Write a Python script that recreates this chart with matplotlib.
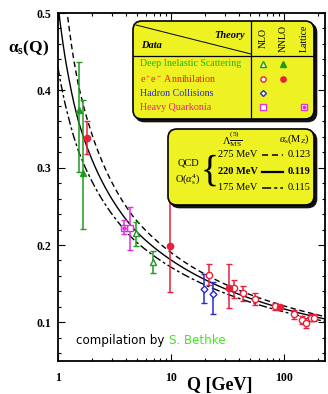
import numpy as np
import matplotlib
matplotlib.use('Agg')
import matplotlib.pyplot as plt
from matplotlib.patches import FancyBboxPatch
from matplotlib.transforms import Affine2D
from matplotlib.lines import Line2D

plt.rcParams['font.family'] = ['Liberation Serif', 'DejaVu Serif']
plt.rcParams['mathtext.fontset'] = 'custom'
plt.rcParams['mathtext.rm'] = 'Liberation Serif'
plt.rcParams['mathtext.it'] = 'Liberation Serif:italic'
plt.rcParams['mathtext.bf'] = 'Liberation Serif:bold'

W, H = 328, 394

# --- measurements read from the picture: Q [GeV], alpha_s, +err, -err ---
# deep inelastic scattering
dis_nlo_q = [4.93, 6.89]
dis_nlo_a = [0.215, 0.178]
dis_nlo_up = [0.015, 0.014]
dis_nlo_dn = [0.016, 0.014]

dis_nnlo_q = [1.52, 1.66]
dis_nnlo_a = [0.374, 0.293]
dis_nnlo_up = [0.063, 0.094]
dis_nnlo_dn = [0.080, 0.072]

# e+e- annihilation
ee_nnlo_q = [1.79, 9.8, 32.6, 92.2]
ee_nnlo_a = [0.339, 0.199, 0.145, 0.120]
ee_nnlo_up = [0.021, 0.062, 0.031, 0.003]
ee_nnlo_dn = [0.021, 0.060, 0.027, 0.003]

ee_nlo_q = [21.7, 36.3, 43.6, 55.6, 83.2, 123, 144, 157, 173, 185]
ee_nlo_a = [0.161, 0.144, 0.138, 0.130, 0.121, 0.111, 0.103, 0.0997, 0.106, 0.106]
ee_nlo_up = [0.014, 0.011, 0.009, 0.008, 0.0045, 0.005, 0.005, 0.0053, 0.005, 0.005]
ee_nlo_dn = [0.013, 0.012, 0.010, 0.007, 0.005, 0.007, 0.005, 0.0072, 0.004, 0.004]

# hadron collisions
had_q = [19.6, 23.7]
had_a = [0.143, 0.136]
had_up = [0.020, 0.016]
had_dn = [0.018, 0.025]

# heavy quarkonia
hq_q = [4.34]
hq_a = [0.222]
hq_up = [0.027]
hq_dn = [0.028]

lat_q = [3.86]
lat_a = [0.222]
lat_up = [0.010]
lat_dn = [0.008]

# theory curves given in the legend
lambda_labels = ['275 MeV', '220 MeV', '175 MeV']
amz_values = [0.123, 0.119, 0.115]
amz_labels = ['0.123', '0.119', '0.115']

GREEN = '#1f9a1f'
RED = '#e8203a'
BLUE = '#2a2ad0'
MAGENTA = '#e030e0'
YELLOW = '#eef222'


def beta(a, nf):
    # 4-loop beta function, a = alpha_s / pi, d a / d ln(mu^2)
    z3 = 1.2020569
    b0 = (11 - 2.0 / 3 * nf) / 4
    b1 = (102 - 38.0 / 3 * nf) / 16
    b2 = (2857.0 / 2 - 5033.0 / 18 * nf + 325.0 / 54 * nf ** 2) / 64
    b3 = (149753.0 / 6 + 3564 * z3 - (1078361.0 / 162 + 6508.0 / 27 * z3) * nf
          + (50065.0 / 162 + 6472.0 / 81 * z3) * nf ** 2 + 1093.0 / 729 * nf ** 3) / 256
    return -(b0 * a ** 2 + b1 * a ** 3 + b2 * a ** 4 + b3 * a ** 5)


def nflav(q):
    if q > 4.7:
        return 5
    if q > 1.5:
        return 4
    return 3


def run_alpha(amz, qs):
    """RK4 running of alpha_s from M_Z to every q in qs."""
    mz = 91.19
    out = np.zeros(len(qs))
    for i, q in enumerate(qs):
        t0, t1 = np.log(mz ** 2), np.log(q ** 2)
        n = 200
        h = (t1 - t0) / n
        a = amz / np.pi
        t = t0
        for _ in range(n):
            nf = nflav(np.sqrt(np.exp(t + h / 2)))
            k1 = beta(a, nf)
            k2 = beta(a + h / 2 * k1, nf)
            k3 = beta(a + h / 2 * k2, nf)
            k4 = beta(a + h * k3, nf)
            a += h / 6 * (k1 + 2 * k2 + 2 * k3 + k4)
            t += h
        out[i] = a * np.pi
    return out


fig = plt.figure(figsize=(W / 100, H / 100), dpi=100)
fig.patch.set_facecolor('white')
ax = fig.add_axes([58 / W, (H - 361) / H, (325 - 58) / W, (361 - 13) / H])

# pixel coordinates on the figure, origin top-left
px = Affine2D().scale(1 / W, -1 / H).translate(0, 1) + fig.transFigure

qgrid = np.logspace(0, np.log10(240), 120)
styles = [(0, (4, 2.5)), '-', (0, (6, 2, 2, 2))]
for amz, ls in zip(amz_values, styles):
    ax.plot(qgrid, run_alpha(amz, qgrid), color='black', lw=1.0, ls=ls, zorder=2)

ebkw = dict(capsize=2.5, elinewidth=1.1, capthick=1.1, ls='none', markersize=4.5,
            markeredgewidth=1.0, zorder=4)
ax.errorbar(dis_nlo_q, dis_nlo_a, yerr=[dis_nlo_dn, dis_nlo_up], color=GREEN, marker='^',
            mfc='white', mec=GREEN, **ebkw)
ax.errorbar(dis_nnlo_q, dis_nnlo_a, yerr=[dis_nnlo_dn, dis_nnlo_up], color=GREEN, marker='^',
            mfc=GREEN, mec=GREEN, **ebkw)
ax.errorbar(ee_nlo_q, ee_nlo_a, yerr=[ee_nlo_dn, ee_nlo_up], color=RED, marker='o',
            mfc='white', mec=RED, **ebkw)
ax.errorbar(ee_nnlo_q, ee_nnlo_a, yerr=[ee_nnlo_dn, ee_nnlo_up], color=RED, marker='o',
            mfc=RED, mec=RED, **ebkw)
ax.errorbar(had_q, had_a, yerr=[had_dn, had_up], color=BLUE, marker='D', mfc='white',
            mec=BLUE, **dict(ebkw, markersize=3.5))
ax.errorbar(hq_q, hq_a, yerr=[hq_dn, hq_up], color=MAGENTA, marker='s', mfc='white',
            mec=MAGENTA, **ebkw)
ax.errorbar(lat_q, lat_a, yerr=[lat_dn, lat_up], color=MAGENTA, marker='s', mfc='white',
            mec=MAGENTA, **ebkw)
ax.plot(lat_q, lat_a, ls='none', marker='o', ms=2.2, color=MAGENTA, zorder=5)

ax.set_xscale('log')
ax.set_xlim(1, 230)
ax.set_ylim(0.05, 0.5)
ax.set_yticks([0.1, 0.2, 0.3, 0.4, 0.5])
ax.set_yticks(np.arange(0.06, 0.5, 0.02), minor=True)
ax.set_xticks([1, 10, 100])
ax.set_xticklabels(['1', '10', '100'], fontweight='bold')
ax.set_yticklabels(['0.1', '0.2', '0.3', '0.4', '0.5'], fontweight='bold')
ax.tick_params(which='both', direction='in', top=True, right=True, width=0.8)
ax.tick_params(which='major', length=5, labelsize=8.5, pad=5)
ax.tick_params(which='minor', length=2.5)
ax.tick_params(axis='x', pad=8)
for sp in ax.spines.values():
    sp.set_linewidth(1.3)

fig.text(8, 48, r'$\mathbf{\alpha_s}$(Q)', transform=px, fontsize=12.5, fontweight='bold',
         ha='left', va='center')
fig.text(220, 386, 'Q [GeV]', transform=px, fontsize=13, fontweight='bold',
         ha='center', va='center')

t1 = fig.text(76, 341, 'compilation by', transform=px, fontsize=8.6, family='DejaVu Sans',
              ha='left', va='center', color='black')
fig.canvas.draw()
x_end = t1.get_window_extent().x1
fig.text(x_end + 5, 341, 'S. Bethke', transform=px, fontsize=8.6, family='DejaVu Sans',
         ha='left', va='center', color='#44e622')


def box(x0, y0, x1, y1):
    shadow = FancyBboxPatch((x0 + 2.5, y0 + 2.5), x1 - x0, y1 - y0, transform=px,
                            boxstyle='round,pad=0,rounding_size=9', fc='#111111',
                            ec='#111111', lw=1.2, zorder=10)
    face = FancyBboxPatch((x0, y0), x1 - x0, y1 - y0, transform=px,
                          boxstyle='round,pad=0,rounding_size=9', fc=YELLOW,
                          ec='black', lw=1.2, zorder=11)
    fig.patches.append(shadow)
    fig.patches.append(face)


# table of data/theory symbols
box(133, 21, 314, 119)
fig.add_artist(Line2D([251, 251], [21, 119], transform=px, color='black', lw=0.9, zorder=12))
fig.add_artist(Line2D([133, 314], [56, 56], transform=px, color='black', lw=0.9, zorder=12))
fig.add_artist(Line2D([136, 251], [25, 54], transform=px, color='black', lw=0.7, zorder=12))
fig.text(245, 35, 'Theory', transform=px, fontsize=7.5, fontweight='bold', style='italic',
         ha='right', va='center', zorder=13)
fig.text(141, 46, 'Data', transform=px, fontsize=7.5, fontweight='bold', style='italic',
         ha='left', va='center', zorder=13)
for xc, name in zip([263, 283, 304], ['NLO', 'NNLO', 'Lattice']):
    fig.text(xc, 38, name, transform=px, fontsize=7, rotation=90, ha='center', va='center',
             zorder=13)

row_names = ['Deep Inelastic Scattering', r'e$^+$e$^-$ Annihilation', 'Hadron Collisions',
             'Heavy Quarkonia']
row_colors = ['#22b022', '#e82010', '#2a2ab8', '#e8207a']
row_y = [64, 79, 94, 108]
for name, col, yy in zip(row_names, row_colors, row_y):
    fig.text(140, yy, name, transform=px, fontsize=7.2, color=col, ha='left', va='center',
             zorder=13)

sym = [(263, 64, '^', GREEN, 'white'), (283, 64, '^', GREEN, GREEN),
       (263, 79, 'o', RED, 'white'), (283, 79, 'o', RED, RED),
       (263, 93, 'D', BLUE, 'white'), (263, 107, 's', MAGENTA, 'white'),
       (304, 107, 's', MAGENTA, 'white')]
for xs, ys, m, ec, fc in sym:
    fig.add_artist(Line2D([xs], [ys], transform=px, marker=m, mec=ec, mfc=fc, ls='none',
                          ms=3.8 if m != 'D' else 3.0, mew=1.0, zorder=13))
fig.add_artist(Line2D([304], [107], transform=px, marker='o', color=MAGENTA, ls='none',
                      ms=1.8, zorder=14))

# theory legend
box(168, 129, 314, 205)
fig.text(232, 139, r'$\Lambda^{(5)}_{\overline{\rm MS}}$', transform=px, fontsize=7.5,
         ha='center', va='center', zorder=13)
fig.text(294, 139, r'$\alpha_{\rm s}$(M$_Z$)', transform=px, fontsize=7.5,
         ha='center', va='center', zorder=13)
fig.text(188, 163, 'QCD', transform=px, fontsize=7.5, ha='center', va='center', zorder=13)
fig.text(188, 180, r'O($\alpha_{\rm s}^4$)', transform=px, fontsize=7.5, ha='center',
         va='center', zorder=13)
fig.text(210, 171, '{', transform=px, fontsize=27, ha='center', va='center', zorder=13)
leg_y = [155, 172, 188]
for lab, val, ls, yy, bold in zip(lambda_labels, amz_labels, styles, leg_y,
                                  [False, True, False]):
    fw = 'bold' if bold else 'normal'
    fig.text(218, yy, lab, transform=px, fontsize=7.5, fontweight=fw, ha='left',
             va='center', zorder=13)
    fig.add_artist(Line2D([262, 283], [yy, yy], transform=px, color='black', ls=ls,
                          lw=1.6 if bold else 1.1, zorder=13))
    fig.text(288, yy, val, transform=px, fontsize=7.5, fontweight=fw, ha='left',
             va='center', zorder=13)

fig.savefig('out.png', dpi=100)
